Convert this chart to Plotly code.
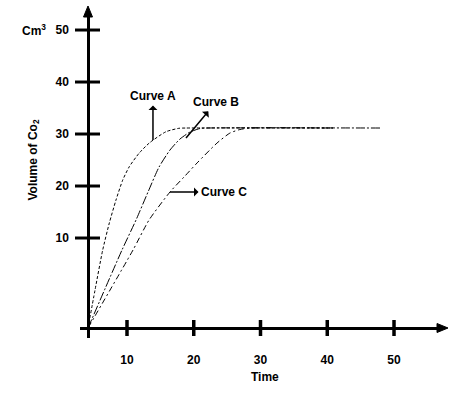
import plotly.graph_objects as go

# ---- data (in axis units) ----
tick_values = [10, 20, 30, 40, 50]
tick_labels = ["10", "20", "30", "40", "50"]

curve_a_time = [4.16, 5.21, 6.36, 7.35, 8.35, 9.36, 10.34, 11.84, 13.34, 15.84, 17.79, 18.84, 40.86]
curve_a_vol = [-7.31, 0.00, 7.69, 12.88, 17.31, 21.15, 23.71, 26.35, 28.27, 30.44, 31.10, 31.15, 31.15]

curve_b_time = [4.16, 9.25, 11.35, 13.15, 14.80, 16.44, 17.94, 19.44, 20.94, 21.98, 48.20]
curve_b_vol = [-7.31, 7.69, 13.46, 18.85, 23.65, 26.92, 29.04, 30.38, 31.06, 31.15, 31.15]

curve_c_time = [4.16, 10.90, 13.30, 16.44, 18.54, 20.49, 23.49, 25.43, 26.93, 28.43, 40.86]
curve_c_vol = [-7.31, 7.69, 13.46, 18.85, 21.73, 24.42, 28.27, 30.19, 30.87, 31.15, 31.15]

W, H = 463, 396
FONT = "Arial, Liberation Sans, sans-serif"


def px(x):
    return x / W


def py(y):
    return (H - y) / H


fig = go.Figure()
for t, v, dash in [
    (curve_a_time, curve_a_vol, "3px,2px"),
    (curve_b_time, curve_b_vol, "9px,2px,2px,2px"),
    (curve_c_time, curve_c_vol, "6px,3px,2px,3px"),
]:
    fig.add_trace(go.Scatter(
        x=t, y=v, mode="lines",
        line=dict(color="black", width=1, dash=dash, shape="spline", smoothing=0.6),
        showlegend=False, hoverinfo="skip",
    ))

fig.update_layout(
    width=W, height=H,
    margin=dict(l=0, r=0, t=0, b=0),
    paper_bgcolor="white", plot_bgcolor="white",
    font=dict(family=FONT, size=12, color="black"),
    xaxis=dict(
        domain=[px(80), px(440)], range=[2.959, 56.89],
        anchor="free", position=py(328),
        showline=True, linecolor="black", linewidth=2.5,
        showgrid=False, zeroline=False,
        tickmode="array", tickvals=tick_values, ticktext=tick_labels,
        ticks="", ticklabelstandoff=20,
        tickfont=dict(family=FONT, size=12, weight="bold"),
    ),
    yaxis=dict(
        domain=[py(338), py(14)], range=[-9.23, 53.08],
        anchor="free", position=px(88),
        showline=True, linecolor="black", linewidth=2.5,
        showgrid=False, zeroline=False,
        tickmode="array", tickvals=tick_values, ticktext=tick_labels,
        ticks="", ticklabelstandoff=16,
        tickfont=dict(family=FONT, size=12, weight="bold"),
    ),
)

# crossing tick marks
for v in tick_values:
    fig.add_shape(type="line", xref="paper", yref="y",
                  x0=px(75), x1=px(100), y0=v, y1=v,
                  line=dict(color="black", width=3))
    fig.add_shape(type="line", xref="x", yref="paper",
                  x0=v, x1=v, y0=py(336), y1=py(320),
                  line=dict(color="black", width=3.5))

# axis arrowheads (filled triangles)
fig.add_shape(type="path", xref="paper", yref="paper",
              path=f"M {px(448)},{py(328)} L {px(437)},{py(323.5)} L {px(437)},{py(332.5)} Z",
              fillcolor="black", line=dict(color="black", width=1))
fig.add_shape(type="path", xref="paper", yref="paper",
              path=f"M {px(88)},{py(6)} L {px(83.5)},{py(17)} L {px(92.5)},{py(17)} Z",
              fillcolor="black", line=dict(color="black", width=1))

bold = dict(family=FONT, size=12, color="black", weight="bold")
# curve labels with pointers (arrowhead at the label side)
for (label, xp, yp, ax, ay) in [
    ("Curve A", 13.89, 28.85, 0, -44),
    ("Curve B", 18.84, 29.23, 30, -36),
    ("Curve C", 16.44, 18.85, 54, 0),
]:
    fig.add_annotation(x=xp, y=yp, xref="x", yref="y", ax=ax, ay=ay,
                       text=label, font=bold, showarrow=True,
                       arrowside="start", arrowhead=2, arrowwidth=1.5,
                       arrowsize=1.2, arrowcolor="black", startstandoff=1)

fig.add_annotation(x=px(265), y=py(386), xref="paper", yref="paper", text="Time",
                   showarrow=False, font=bold)
fig.add_annotation(x=px(23), y=py(118), xref="paper", yref="paper",
                   text="Volume of Co<sub>2</sub>", textangle=-90,
                   showarrow=False, font=bold)
fig.add_annotation(x=px(20), y=py(20), xref="paper", yref="paper",
                   text="Cm<sup>3</sup>", xanchor="left",
                   showarrow=False, font=bold)

fig.write_html("out.html", config={"displayModeBar": False},
               post_script="document.body.style.margin='0px';")
